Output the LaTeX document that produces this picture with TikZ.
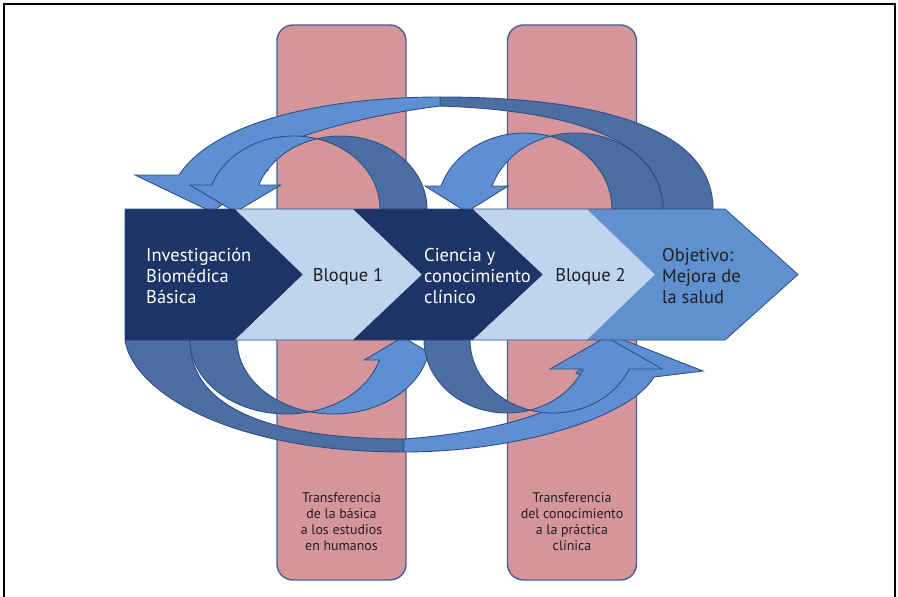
\documentclass[tikz,border=0pt]{standalone}
\usepackage{fontspec}
\setmainfont{PT Sans}
\definecolor{navy}{HTML}{1D3466}
\definecolor{chevlight}{HTML}{BFD5ED}
\definecolor{chevmid}{HTML}{5F90D0}
\definecolor{arrlight}{HTML}{5E8FD2}
\definecolor{arrdark}{HTML}{4C6FA3}
\definecolor{edgeblue}{HTML}{2F4E85}
\definecolor{pinkfill}{HTML}{D4969B}
\definecolor{pinkedge}{HTML}{44609A}
\definecolor{txtdark}{HTML}{231F20}
\tikzset{
  pinkbar/.style={fill=pinkfill, draw=pinkedge, line width=1.4pt, rounded corners=16pt, minimum width=129pt, minimum height=555pt, inner sep=0pt},
  darkpart/.style={fill=arrdark, draw=edgeblue, line width=0.9pt, line join=round},
  lightpart/.style={fill=arrlight, draw=edgeblue, line width=0.9pt, line join=miter},
  bandedge/.style={draw=edgeblue, line width=0.8pt},
  maintext/.style={font=\fontsize{18.5}{21}\selectfont, align=left, inner sep=0pt},
  bartext/.style={font=\fontsize{13.9}{16}\selectfont, align=center, inner sep=0pt, text=txtdark},
}
% #1 c, #2 Al, #3 Ar, #4 B, #5 d, #6 yh, #7 e, #8 tipdx
\newcommand{\curvedarr}[8]{%
  \pgfmathsetmacro{\cu}{#5/(#2+#3)}%
  \pgfmathsetmacro{\cta}{acos(\cu)}%
  \pgfmathsetmacro{\ctb}{180-\cta}%
  \pgfmathsetmacro{\cth}{180-asin((209-#6)/#4)}%
  \pgfmathsetmacro{\cpo}{#1+#2*cos(\cth)}%
  \pgfmathsetmacro{\cpi}{\cpo+#5}%
  \pgfmathsetmacro{\ctip}{\cpo+#5/2+#8}%
  \pgfmathsetmacro{\cdd}{#1+#5}%
  \filldraw[darkpart] plot[domain=0:90,samples=40] ({\cdd+#3*cos(\x)},{209-#4*sin(\x)})
    -- plot[domain=90:\ctb,samples=30] ({\cdd+#2*cos(\x)},{209-#4*sin(\x)})
    -- plot[domain=\cta:0,samples=40] ({#1+#3*cos(\x)},{209-#4*sin(\x)}) -- cycle;
  \filldraw[lightpart] plot[domain=\cta:90,samples=30] ({#1+#3*cos(\x)},{209-#4*sin(\x)})
    -- plot[domain=90:\cth,samples=40] ({#1+#2*cos(\x)},{209-#4*sin(\x)})
    -- ({\cpo-#7},#6) -- (\ctip,212) -- ({\cpi+#7},#6)
    -- plot[domain=\cth:\ctb,samples=40] ({\cdd+#2*cos(\x)},{209-#4*sin(\x)}) -- cycle;
}
\begin{document}
\begin{tikzpicture}[x=1pt,y=-1pt]
\useasboundingbox (0,0) rectangle (898,597);
\fill[white] (0,0) rectangle (898,597);
\draw[black, line width=2pt] (4,600) -- (4,4) -- (895,4) -- (895,600);

% pink bars
\node[pinkbar] (bar1) at (341.5,302.5) {};
\node[pinkbar] (bar2) at (572,302.5) {};

% top: big curved arrow (pointing back)
\filldraw[darkpart] (713,209) .. controls (713,125) and (590,97) .. (440,97) -- (440,106)
   .. controls (560,110) and (663,135) .. (663,209) -- cycle;
\filldraw[lightpart] (440,97) .. controls (330,97) and (215,120) .. (179,175) -- (135,175)
   -- (212,212) -- (268,170) -- (232,172) .. controls (255,150) and (330,120) .. (440,106) -- cycle;
% top: smaller curved arrows
\curvedarr{524.5}{87.5}{87.5}{76}{51}{186}{16}{0}
\curvedarr{293.5}{86.5}{86.5}{73}{47}{185}{22}{0}

% bottom curved arrows (pointing forward), drawn in a half-turned frame
\begin{scope}[rotate around={180:(422,274.5)}]
\filldraw[darkpart] (719,209) .. controls (712,160) and (620,97) .. (440,97) -- (440,110)
   .. controls (560,110) and (654,135) .. (654,209) -- cycle;
\filldraw[lightpart] (440,97) .. controls (330,97) and (215,130) .. (190,172) -- (141,178)
   -- (228,212) -- (268,176) -- (250,168) .. controls (270,145) and (330,118) .. (440,110) -- cycle;
\curvedarr{510.5}{96.5}{96.5}{74}{47}{189}{15}{0}
\curvedarr{291}{83}{83}{73}{46}{180}{33}{0}
\end{scope}

% chevron band
\fill[navy] (125,209) -- (235,209) -- (303,274.5) -- (235,340) -- (125,340) -- cycle;
\fill[chevlight] (235,209) -- (353,209) -- (422,274.5) -- (353,340) -- (235,340) -- (303,274.5) -- cycle;
\fill[navy] (353,209) -- (473,209) -- (543,274.5) -- (473,340) -- (353,340) -- (422,274.5) -- cycle;
\fill[chevlight] (473,209) -- (587,209) -- (655,274.5) -- (587,340) -- (473,340) -- (543,274.5) -- cycle;
\fill[chevmid] (587,209) -- (725,209) -- (798,274.5) -- (725,340) -- (587,340) -- (655,274.5) -- cycle;
\draw[bandedge] (125,209) -- (725,209) -- (798,274.5) -- (725,340) -- (125,340) -- cycle;

% texts
\node[maintext, text=white, anchor=base west] (inv) at (146,303) {Investigación\\Biomédica\\Básica};
\node[maintext, text=txtdark, anchor=base] (bl1) at (348,281) {Bloque 1};
\node[maintext, text=white, anchor=base west] (cie) at (424,303) {Ciencia y\\conocimiento\\clínico};
\node[maintext, text=txtdark, anchor=base] (bl2) at (590.5,281) {Bloque 2};
\node[maintext, text=txtdark, anchor=base west] (obj) at (662,303) {Objetivo:\\Mejora de\\la salud};
\node[bartext, anchor=base] (tr1) at (341.5,550) {Transferencia\\de la básica\\a los estudios\\en humanos};
\node[bartext, anchor=base] (tr2) at (572,550) {Transferencia\\del conocimiento\\a la práctica\\clínica};
\end{tikzpicture}
\end{document}
